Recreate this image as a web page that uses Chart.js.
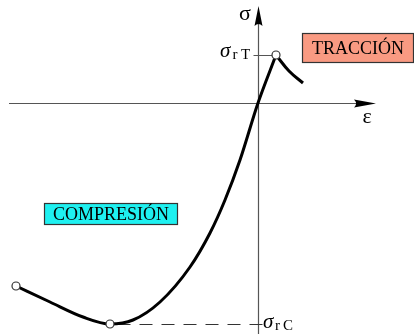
<!DOCTYPE html>
<html>
<head>
<meta charset="utf-8">
<script src="https://cdn.jsdelivr.net/npm/chart.js@4"></script>
<style>
  html, body { margin: 0; padding: 0; background: #ffffff; }
  #wrap { width: 414px; height: 334px; }
</style>
</head>
<body>
<div id="wrap"><canvas id="c" width="414" height="334"></canvas></div>
<script>
// Schematic stress–strain curve (arbitrary units, strain ε on x, stress σ on y)
const epsRise = [-24.2, -20.8, -17.5, -14.8, -12.5, -9.8, -6.8, -4.8, -3.3, -1.8, 0.0, 1.8];
const sigRise = [-18.3, -19.9, -21.4, -22.1, -21.7, -19.9, -16.4, -13.0, -9.7, -5.7, 0.0, 4.8];
const epsTail = [1.8, 3.1, 4.5];
const sigTail = [4.8, 3.2, 2.0];
// marked points: compression start, compressive strength σrC, tensile strength σrT
const markEps = [-24.2, -14.8, 1.8];
const markSig = [-18.3, -22.1, 4.8];
const sigmaRT = 4.8;    // tensile strength level
const sigmaRC = -22.1;  // compressive strength level
const epsAtRC = -14.8;
const epsAtRT = 1.8;

const SERIF = '"Liberation Serif", "Times New Roman", serif';
const toPts = (xs, ys) => xs.map((x, i) => ({ x: x, y: ys[i] }));

const axesPlugin = {
  id: 'axesPlugin',
  beforeDatasetsDraw(chart) {
    const ctx = chart.ctx, xs = chart.scales.x, ys = chart.scales.y;
    const X = v => xs.getPixelForValue(v), Y = v => ys.getPixelForValue(v);
    const x0 = Math.round(X(0)) + 0.5, y0 = Math.round(Y(0)) + 0.5;
    ctx.save();
    ctx.strokeStyle = '#555'; ctx.fillStyle = '#000'; ctx.lineWidth = 1.2;
    // horizontal axis (ε)
    const hx1 = X(-24.9), hx2 = X(11.8);
    ctx.beginPath(); ctx.moveTo(hx1, y0); ctx.lineTo(hx2 - 10, y0); ctx.stroke();
    ctx.beginPath();
    ctx.moveTo(hx2, y0); ctx.lineTo(hx2 - 22, y0 - 4); ctx.quadraticCurveTo(hx2 - 18, y0, hx2 - 22, y0 + 4);
    ctx.closePath(); ctx.fill();
    // vertical axis (σ)
    const vy1 = Y(-23.1), vy2 = Y(9.7);
    ctx.beginPath(); ctx.moveTo(x0, vy1); ctx.lineTo(x0, vy2 + 10); ctx.stroke();
    ctx.beginPath();
    ctx.moveTo(x0, vy2); ctx.lineTo(x0 - 4, vy2 + 20); ctx.quadraticCurveTo(x0, vy2 + 16, x0 + 4, vy2 + 20);
    ctx.closePath(); ctx.fill();
    // σrT tick
    ctx.lineWidth = 1;
    ctx.beginPath(); ctx.moveTo(x0 - 5, Math.round(Y(sigmaRT)) + 0.5); ctx.lineTo(X(epsAtRT), Math.round(Y(sigmaRT)) + 0.5); ctx.stroke();
    // σrC dashed line (from axis towards the minimum)
    ctx.strokeStyle = '#333';
    ctx.setLineDash([13, 9]);
    ctx.beginPath(); ctx.moveTo(x0 + 4, Math.round(Y(sigmaRC)) + 0.5); ctx.lineTo(X(epsAtRC), Math.round(Y(sigmaRC)) + 0.5); ctx.stroke();
    ctx.setLineDash([]);
    ctx.restore();
  },
  afterDraw(chart) {
    const ctx = chart.ctx, xs = chart.scales.x, ys = chart.scales.y;
    const X = v => xs.getPixelForValue(v), Y = v => ys.getPixelForValue(v);
    ctx.save();
    ctx.fillStyle = '#000';
    ctx.textBaseline = 'alphabetic';
    // axis names
    ctx.font = '22px ' + SERIF;
    ctx.textAlign = 'center';
    ctx.fillText('σ', X(-1.3), Y(8.3));
    ctx.fillText('ε', X(10.9), Y(-2.0));
    // σrT
    ctx.textAlign = 'left';
    ctx.font = 'italic 21px ' + SERIF;
    ctx.fillText('σ', X(-3.8), Y(sigmaRT) + 2);
    ctx.font = '15px ' + SERIF;
    ctx.fillText('r', X(-2.55), Y(sigmaRT) + 4);
    ctx.fillText('T', X(-1.7), Y(sigmaRT) + 4);
    // σrC
    ctx.font = 'italic 21px ' + SERIF;
    ctx.fillText('σ', X(0.5), Y(sigmaRC) + 4);
    ctx.font = '15px ' + SERIF;
    ctx.fillText('r', X(1.7), Y(sigmaRC) + 6);
    ctx.fillText('C', X(2.5), Y(sigmaRC) + 6);
    // region boxes
    const box = (x1, y1, x2, y2, fill, text) => {
      const l = Math.round(X(x1)) + 0.5, t = Math.round(Y(y1)) + 0.5;
      const r = Math.round(X(x2)) + 0.5, b = Math.round(Y(y2)) + 0.5;
      ctx.fillStyle = fill; ctx.fillRect(l, t, r - l, b - t);
      ctx.strokeStyle = '#333'; ctx.lineWidth = 1.2; ctx.strokeRect(l, t, r - l, b - t);
      ctx.fillStyle = '#000';
      ctx.font = '18px ' + SERIF;
      ctx.textAlign = 'center'; ctx.textBaseline = 'middle';
      ctx.fillText(text, (l + r) / 2, (t + b) / 2 + 1);
    };
    box(-21.4, -10.0, -8.1, -12.1, '#1ef0f0', 'COMPRESIÓN');
    box(4.4, 7.0, 15.5, 4.1, '#f99a82', 'TRACCIÓN');
    ctx.restore();
  }
};

function build() {
  new Chart(document.getElementById('c'), {
    type: 'scatter',
    data: {
      datasets: [
        {
          label: 'puntos',
          data: toPts(markEps, markSig),
          showLine: false,
          pointRadius: 4,
          pointBackgroundColor: '#ffffff',
          pointBorderColor: '#333',
          pointBorderWidth: 1.2,
          clip: false
        },
        {
          label: 'curva',
          data: toPts(epsRise, sigRise),
          showLine: true,
          borderColor: '#000',
          borderWidth: 3,
          pointRadius: 0,
          cubicInterpolationMode: 'monotone',
          clip: false
        },
        {
          label: 'tracción',
          data: toPts(epsTail, sigTail),
          showLine: true,
          borderColor: '#000',
          borderWidth: 3,
          pointRadius: 0,
          tension: 0.4,
          clip: false
        }
      ]
    },
    options: {
      responsive: false,
      devicePixelRatio: 1,
      animation: false,
      layout: { padding: 0, autoPadding: false },
      plugins: { legend: { display: false }, tooltip: { enabled: false } },
      scales: {
        x: { type: 'linear', min: -25.8, max: 15.6, display: false },
        y: { type: 'linear', min: -23.1, max: 10.3, display: false }
      }
    },
    plugins: [axesPlugin]
  });
}

if (document.fonts && document.fonts.load) {
  Promise.all([
    document.fonts.load('18px "Liberation Serif"'),
    document.fonts.load('italic 18px "Liberation Serif"')
  ]).then(build, build);
} else {
  build();
}
</script>
</body>
</html>
